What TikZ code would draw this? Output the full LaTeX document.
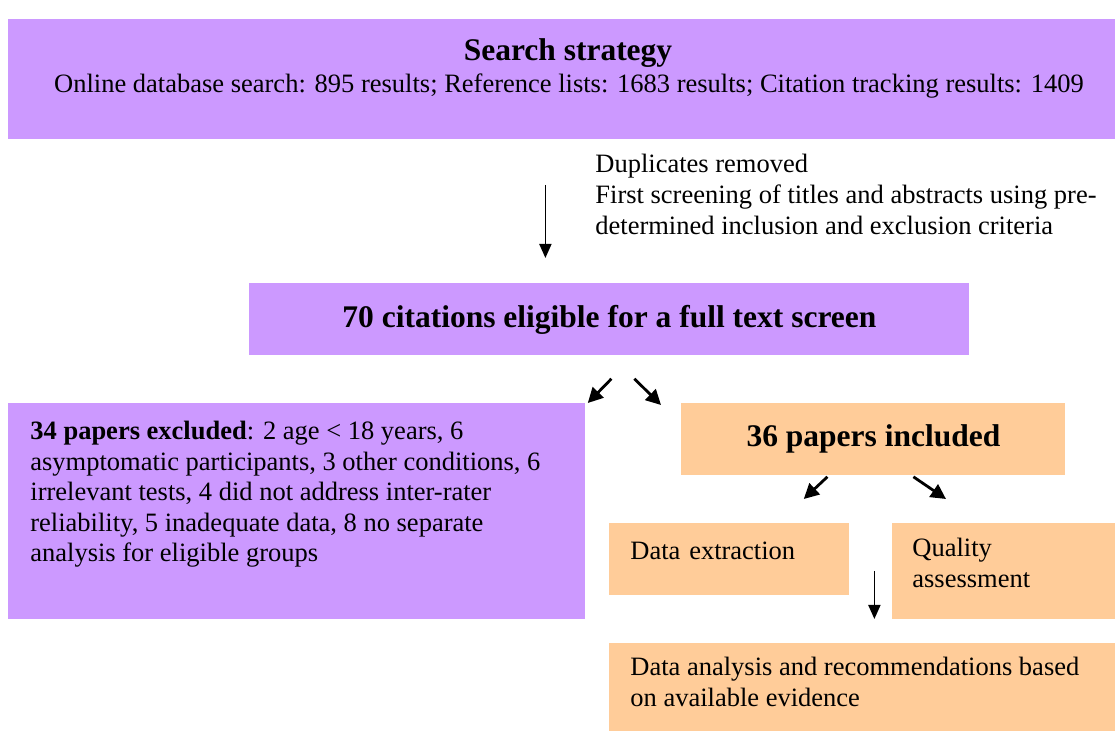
\documentclass[tikz,border=0pt]{standalone}
\usepackage{fontspec}
\setmainfont{Liberation Serif}
\usetikzlibrary{arrows.meta}

\definecolor{boxpurple}{HTML}{CC99FF}
\definecolor{boxorange}{HTML}{FFCC99}

\tikzset{
  purplebox/.style={rectangle, fill=boxpurple, anchor=north west, inner sep=0pt},
  orangebox/.style={rectangle, fill=boxorange, anchor=north west},
  flowarrow/.style={-{Triangle[length=7pt,width=6pt]}, line width=0.9pt},
  diagarrow/.style={-{Triangle[length=7.5pt,width=7.5pt]}, line width=1.4pt},
}
\newcommand{\bodysize}{\fontsize{13.25pt}{15.25pt}\selectfont}
\newcommand{\headsize}{\fontsize{15.75pt}{18pt}\selectfont\bfseries}

\begin{document}
\begin{tikzpicture}[x=0.5pt, y=-0.5pt, font=\bodysize]
  \useasboundingbox (0,0) rectangle (1115,731);
  \fill [white] (0,0) rectangle (1115,731);

  % search strategy
  \node (search) [purplebox, minimum width=553.5pt, minimum height=60pt] at (8,19) {};
  \node (searchtitle) [font=\headsize] at (568,53) {Search strategy};
  \node (searchtext) at (569,86) {Online database search: 895 results; Reference lists: 1683 results; Citation tracking results: 1409};

  \node (screening) [anchor=north west, inner sep=0pt, align=left, font=\fontsize{13.25pt}{15.5pt}\selectfont] at (595,154) {Duplicates removed\\First screening of titles and abstracts using pre-\\determined inclusion and exclusion criteria};

  % full text screen
  \node (cit) [purplebox, minimum width=360pt, minimum height=36pt, font=\headsize] at (249,283) {70 citations eligible for a full text screen};

  % excluded
  \node (excl) [purplebox, minimum width=288.5pt, minimum height=108pt] at (8,403) {};
  \node (excltext) [anchor=north west, inner sep=0pt, align=left] at (30,421) {\textbf{34 papers excluded}: 2 age < 18 years, 6\\asymptomatic participants, 3 other conditions, 6\\irrelevant tests, 4 did not address inter-rater\\reliability, 5 inadequate data, 8 no separate\\analysis for eligible groups};

  % included
  \node (incl) [orangebox, minimum width=192pt, minimum height=36pt, font=\headsize] at (681,403) {36 papers included};
  \node (extr) [orangebox, minimum width=120pt, minimum height=36pt, inner xsep=10.5pt, text width=99pt, align=left, text depth=9pt] at (609,523) {Data extraction};
  \node (qual) [orangebox, minimum width=111.5pt, minimum height=48pt] at (892,523) {};
  \node (qualtext) [anchor=north west, inner sep=0pt, align=left] at (912,538) {Quality\\assessment};
  \node (anal) [orangebox, minimum width=253pt, minimum height=44pt] at (609,643) {};
  \node (analtext) [anchor=north west, inner sep=0pt, align=left] at (630,657) {Data analysis and recommendations based\\on available evidence};

  % arrows
  \draw [flowarrow] ([shift={(-64,-98)}]cit.north) -- ([shift={(-64,-25)}]cit.north);
  \draw [diagarrow] ([shift={(2,23)}]cit.south) -- ([shift={(2,0)}]excl.north east);
  \draw [diagarrow] ([shift={(25,23)}]cit.south) -- ([shift={(-20,2)}]incl.north west);
  \draw [diagarrow] ([shift={(-46,1)}]incl.south) -- ([shift={(-46,-24)}]extr.north east);
  \draw [diagarrow] ([shift={(40,1)}]incl.south) -- ([shift={(54,-24)}]qual.north west);
  \draw [flowarrow] ([shift={(12,-72)}]anal.north) -- ([shift={(12,-24)}]anal.north);
\end{tikzpicture}
\end{document}
